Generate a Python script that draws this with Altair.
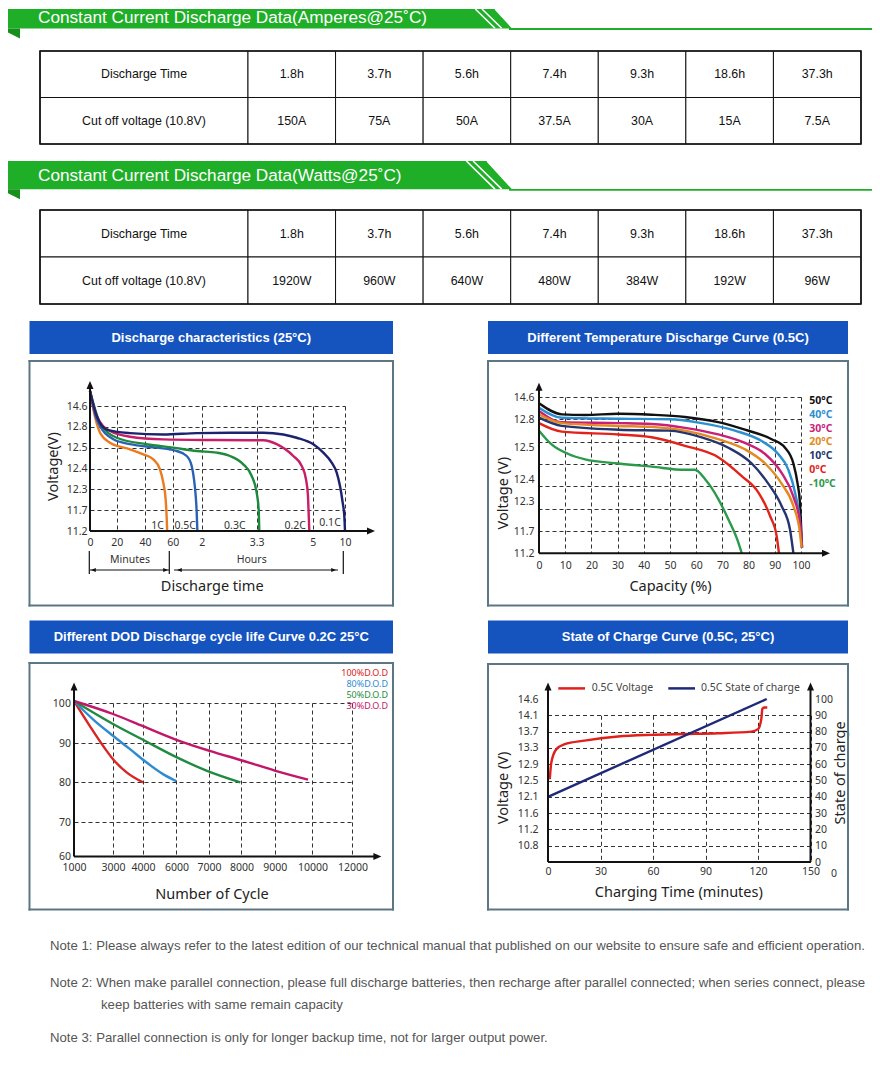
import altair as alt
import numpy as np
import pandas as pd

# ---------------- texts ----------------
BANNER_TITLES = ["Constant Current Discharge Data(Amperes@25˚C)",
                 "Constant Current Discharge Data(Watts@25˚C)"]
TABLE_HEADER = ["Discharge Time", "1.8h", "3.7h", "5.6h", "7.4h", "9.3h", "18.6h", "37.3h"]
TABLE_AMPS = ["Cut off voltage (10.8V)", "150A", "75A", "50A", "37.5A", "30A", "15A", "7.5A"]
TABLE_WATTS = ["Cut off voltage (10.8V)", "1920W", "960W", "640W", "480W", "384W", "192W", "96W"]
PANEL_TITLES = ["Discharge characteristics (25°C)",
                "Different Temperature Discharge Curve (0.5C)",
                "Different DOD Discharge cycle life Curve 0.2C 25°C",
                "State of Charge Curve (0.5C, 25°C)"]
NOTES = ["Note 1: Please always refer to the latest edition of our technical manual that published on our website to ensure safe and efficient operation.",
         "Note 2: When make parallel connection, please full discharge batteries, then recharge after parallel connected; when series connect, please",
         "keep batteries with same remain capacity",
         "Note 3: Parallel connection is only for longer backup time, not for larger output power."]

# ---------------- panel 1: discharge characteristics ----------------
P1_SERIES = ["1C", "0.5C", "0.3C", "0.2C", "0.1C"]
P1_COLORS = ["#ec7b1d", "#2a62b4", "#1d8a3d", "#c81e68", "#1b226e"]
P1_T_TICKS = [0, 20, 40, 60, 120, 198, 300, 600]          # minutes
P1_T_LABELS = ["0", "20", "40", "60", "2", "3.3", "5", "10"]
P1_V_TICKS = [11.2, 11.7, 12.3, 12.4, 12.5, 12.8, 14.6]
P1_T = {
    "1C": [0, 2.5, 7.5, 15, 29.4, 38.8, 46, 50.8, 53.2, 54.9, 55.6, 56],
    "0.5C": [0, 5.0, 17.5, 29.4, 48.4, 68.3, 89, 99.3, 104.1, 107.6, 109.7, 111],
    "0.3C": [0, 7.5, 20, 41.2, 61.2, 109.7, 141.3, 160.1, 179, 190.9, 198, 201.6, 202.7],
    "0.2C": [0, 5.0, 15, 29.4, 53.2, 136.4, 210, 234.4, 264.6, 280, 287.8, 291.4, 292.6, 293.8],
    "0.1C": [0, 5.0, 12.5, 29.4, 53.2, 109.7, 160.1, 210, 246.4, 270.8, 305.6, 398.5, 476.5,
             522.9, 553.6, 578.7, 593.5, 600],
}
P1_V = {
    "1C": [15.9, 14.31, 12.715, 12.571, 12.492, 12.468, 12.444, 12.396, 12.332, 12.01, 11.56, 11.2],
    "0.5C": [15.9, 13.45, 12.62, 12.55, 12.5, 12.484, 12.46, 12.412, 12.348, 12.108, 11.64, 11.2],
    "0.3C": [15.9, 13.16, 12.643, 12.55, 12.5, 12.484, 12.476, 12.46, 12.42, 12.364, 12.2, 11.72, 11.2],
    "0.2C": [15.9, 13.74, 12.74, 12.658, 12.62, 12.61, 12.606, 12.55, 12.46, 12.412, 12.348, 12.108,
             11.64, 11.2],
    "0.1C": [15.9, 13.74, 12.76, 12.71, 12.69, 12.71, 12.715, 12.715, 12.69, 12.643, 12.548, 12.476,
             12.428, 12.38, 12.316, 11.914, 11.56, 11.2],
}
P1_LABEL_T = [49, 86, 167, 268, 461]
P1_LABEL_V = [11.32, 11.32, 11.32, 11.32, 11.39]
P1_SPANS = ["Minutes", "Hours"]
P1_TITLES = ["Discharge time", "Voltage(V)"]

# ---------------- panel 2: temperature ----------------
TEMP_LABELS = ["50°C", "40°C", "30°C", "20°C", "10°C", "0°C", "-10°C"]
TEMP_COLORS = ["#111111", "#2b8fd2", "#c91f78", "#e38a22", "#263470", "#e2231a", "#2b9a4b"]
P2_CAP_TICKS = [0, 10, 20, 30, 40, 50, 60, 70, 80, 90, 100]
P2_V_TICKS = [11.2, 11.7, 12.3, 12.4, 12.5, 12.8, 14.6]
P2_CAP = {
    "50°C": [0, 8.7, 17.6, 30.3, 43, 55.7, 68.4, 78.6, 88.8, 93.9, 97.1, 98.7, 99.6, 100.1, 100.4],
    "40°C": [0, 8.7, 30.3, 49.4, 62.1, 74.8, 85, 91.3, 95.2, 97.7, 99.6, 100.3],
    "30°C": [0, 8.7, 30.3, 43, 55.7, 68.4, 78.6, 86.3, 92.6, 97.1, 99.6, 100.4],
    "20°C": [0, 8.7, 30.3, 43, 55.7, 68.4, 78.6, 86.3, 92.6, 97.1, 99.6, 100.2],
    "10°C": [0, 8.7, 30.3, 49.4, 62.1, 72.3, 81.2, 87.5, 92.6, 95.8, 97.1],
    "0°C": [0, 8.7, 30.3, 43, 55.7, 68.4, 77.4, 83.7, 88.2, 90.7, 91.6],
    "-10°C": [0, 4.8, 11.2, 17.6, 30.3, 43, 55.7, 59.5, 63.4, 68.4, 72.3, 76.1, 77.4],
}
P2_V = {
    "50°C": [14.09, 13.2, 13.15, 13.25, 13.17, 12.99, 12.77, 12.69, 12.59, 12.5, 12.45, 12.38, 12.27,
             11.73, 11.33],
    "40°C": [13.74, 12.93, 12.85, 12.8, 12.76, 12.68, 12.57, 12.48, 12.43, 12.34, 11.87, 11.33],
    "30°C": [13.47, 12.77, 12.76, 12.75, 12.71, 12.64, 12.55, 12.48, 12.42, 12.32, 11.87, 11.33],
    "20°C": [13.2, 12.76, 12.73, 12.72, 12.68, 12.59, 12.495, 12.45, 12.38, 12.2, 11.66, 11.33],
    "10°C": [12.93, 12.73, 12.69, 12.68, 12.61, 12.5, 12.45, 12.38, 12.2, 11.73, 11.2],
    "0°C": [12.76, 12.67, 12.64, 12.61, 12.52, 12.47, 12.41, 12.34, 12.0, 11.59, 11.2],
    "-10°C": [12.68, 12.535, 12.48, 12.463, 12.45, 12.44, 12.43, 12.43, 12.4, 12.31, 11.93, 11.44, 11.2],
}
P2_TITLES = ["Capacity (%)", "Voltage (V)"]

# ---------------- panel 3: DOD cycle life ----------------
DOD_LABELS = ["100%D.O.D", "80%D.O.D", "50%D.O.D", "30%D.O.D"]
DOD_COLORS = ["#d92424", "#2f8bd0", "#1f8b40", "#c1176b"]
P3_X_TICKS = [1000, 3000, 4000, 6000, 7000, 8000, 9000, 10000, 12000]
P3_Y_TICKS = [60, 70, 80, 90, 100]
P3_N = {
    "100%D.O.D": [1000, 1805, 2487, 3000, 3443, 4000],
    "80%D.O.D": [1000, 2046, 3000, 3557, 4198, 5198, 6000],
    "50%D.O.D": [1000, 3000, 4000, 6000, 6920, 7969],
    "30%D.O.D": [1000, 3000, 4000, 6000, 7022, 8048, 9000, 9883],
}
P3_P = {
    "100%D.O.D": [100.5, 94.3, 89.3, 85.9, 82.6, 80.0],
    "80%D.O.D": [100.5, 95.6, 91.8, 88.5, 85.1, 82.1, 80.3],
    "50%D.O.D": [100.5, 94.75, 90.8, 86.4, 83.0, 80.0],
    "30%D.O.D": [100.5, 97.25, 94.2, 90.8, 88.0, 85.5, 83.0, 80.7],
}
P3_TITLE = "Number of Cycle"

# ---------------- panel 4: state of charge ----------------
P4_SERIES = ["0.5C Voltage", "0.5C State of charge"]
P4_COLORS = ["#e11f1b", "#1e2a78"]
P4_T_TICKS = [0, 30, 60, 90, 120, 150]
P4_V_TICKS = [10.8, 11.2, 11.6, 12.1, 12.5, 12.9, 13.3, 13.7, 14.1, 14.6]
P4_SOC_TICKS = [0, 10, 20, 30, 40, 50, 60, 70, 80, 90, 100]
P4_VOLT_T = [1.0, 1.9, 4.8, 9.5, 20.9, 40, 59, 78, 97.2, 116.2, 120, 121.9, 122.5, 123.8, 125.3]
P4_VOLT_V = [12.53, 12.94, 13.27, 13.39, 13.48, 13.58, 13.62, 13.64, 13.66, 13.70, 13.76, 14.01,
             14.30, 14.34, 14.34]
P4_SOC_T = [0, 125]
P4_SOC_V = [40, 100]
P4_TITLES = ["Charging Time (minutes)", "Voltage (V)", "State of charge"]
P4_EXTRA = "0"

# ---------------- style ----------------
FONT_T = "Liberation Sans"
FONT_C = "Noto Sans"
GREEN = "#1fae27"
GREEN_D = "#168f1d"
BLUE = "#1553bf"
BOXC = "#5d7684"
INK = "#111111"
ARROW_UP = "M0,-1L0.7,0.6L-0.7,0.6Z"
ARROW_RIGHT = "M1,0L-0.6,0.7L-0.6,-0.7Z"
ARROW_LEFT = "M-1,0L0.6,-0.7L0.6,0.7Z"
PAGE_W = 864

ONE = pd.DataFrame({"k": [0]})


def vrect(x0, x1, y0, y1, color, opacity=1.0):
    return alt.Chart(ONE).mark_rect(color=color, opacity=opacity).encode(
        x=alt.value(x0), x2=alt.value(x1), y=alt.value(y0), y2=alt.value(y1))


def ghost(x0, x1, y0, y1):
    return vrect(x0, x1, y0, y1, "white", 0)


def vrule(x0, y0, x1, y1, color=INK, width=2.0):
    return alt.Chart(ONE).mark_rule(color=color, strokeWidth=width).encode(
        x=alt.value(x0), y=alt.value(y0), x2=alt.value(x1), y2=alt.value(y1))


def vtext(x, y, text, **kw):
    return alt.Chart(ONE).mark_text(**kw).encode(x=alt.value(x), y=alt.value(y), text=alt.value(text))


def vshape(x, y, path, size, color):
    return alt.Chart(ONE).mark_point(shape=path, size=size, filled=True, color=color,
                                     opacity=1, strokeWidth=0).encode(x=alt.value(x), y=alt.value(y))


def long_df(series, xs, ys, xn, yn):
    rows = []
    for s in series:
        for a, b in zip(xs[s], ys[s]):
            rows.append({"s": s, xn: a, yn: b})
    return pd.DataFrame(rows)


def lab_expr(values, labels):
    expr = "''"
    for v, l in reversed(list(zip(values, labels))):
        expr = f"(datum.value == {v} ? '{l}' : {expr})"
    return expr


def axis(**kw):
    base = dict(labelFont=FONT_C, labelFontSize=10.5, labelColor="#333333",
                titleFont=FONT_C, titleFontSize=14.5, titleFontWeight="normal", titleColor="#222222",
                ticks=False, domain=False, gridDash=[4, 3], gridColor="#333333", gridWidth=1,
                gridOpacity=1, labelFlush=False, labelOverlap=False)
    base.update(kw)
    return alt.Axis(**base)


def frame(ox, oy, title, bar, boxr, gl, st, sb, gr=None):
    """Title bar, box, and invisible anchors (chart coordinates -> local)."""
    L = [vrect(bar[0] - ox, bar[2] - ox, bar[1] - oy, bar[3] - oy, BLUE),
         vtext((bar[0] + bar[2]) / 2 - ox, (bar[1] + bar[3]) / 2 - oy, title, font=FONT_T,
               fontSize=13, fontWeight="bold", color="white", align="center", baseline="middle")]
    x0, y0, x1, y1 = boxr[0] - ox, boxr[1] - oy, boxr[2] - ox, boxr[3] - oy
    L += [vrect(x0 - 1, x1 + 1, y0 - 1, y0 + 1, BOXC), vrect(x0 - 1, x1 + 1, y1 - 1, y1 + 1, BOXC),
          vrect(x0 - 1, x0 + 1, y0 - 1, y1 + 1, BOXC), vrect(x1 - 1, x1 + 1, y0 - 1, y1 + 1, BOXC)]
    L.append(ghost(gl - ox, gl + 1 - ox, st + 1 - oy, sb - oy))
    if gr is not None:
        L.append(ghost(gr - 1 - ox, gr - ox, st + 1 - oy, st + 2 - oy))
    return L


def spacer():
    return ghost(0, 1, 0, 1).properties(width=1, height=1)


# ---------------- banners ----------------
def banner_chart(title, T, B, text_top, slot_h):
    xb = 504.0
    xt = xb - 0.92 * (B - T)
    a, b = (xb - xt) / 2, (B - T) / 2
    r = max(a, b)
    tri = f"M{-a / r:.3f},{-b / r:.3f}L{a / r:.3f},{b / r:.3f}L{-a / r:.3f},{b / r:.3f}Z"
    fold = "M-1,-0.833L1,-0.833L1,0.833L-1,-0.167Z"
    layers = [
        vrect(0, xt + 0.6, T, B, GREEN),
        vshape((xt + xb) / 2, (T + B) / 2, tri, (2 * r) ** 2, GREEN),
        vrect(xb - 3, PAGE_W, B - 0.4, B + 1.4, GREEN),
        vrule(xb - 17 - (B - T) * 1.01, T, xb - 17, B - 0.2, "white", 1.6),
        vrule(xb - 10.3 - (B - T) * 1.01, T, xb - 10.3, B - 0.2, "white", 1.6),
        vshape(6, B + 5, fold, 144, GREEN_D),
        vtext(30, text_top, title, font=FONT_T, fontSize=17.2, color="white", align="left",
              baseline="top"),
        ghost(0, 1, 0, slot_h),
    ]
    return alt.layer(*layers).properties(width=PAGE_W, height=slot_h)


# ---------------- tables ----------------
def table_chart(row2, H, slot_h, top=2):
    weights = [2.375] + [1.0] * 7
    edges = np.concatenate([[0.0], np.cumsum(weights)])
    recs = []
    for r, row in enumerate([TABLE_HEADER, row2]):
        for i, txt in enumerate(row):
            recs.append(dict(row=r, x0=edges[i], x1=edges[i + 1], xm=(edges[i] + edges[i + 1]) / 2, txt=txt))
    df = pd.DataFrame(recs)
    xs = alt.Scale(domain=[0, float(edges[-1])], range=[32, 853], nice=False, zero=False)
    ys = alt.Scale(domain=[0, 1], range=[top, top + H], paddingInner=0, paddingOuter=0)
    cells = alt.Chart(df).mark_rect(fill="white", stroke=INK, strokeWidth=1).encode(
        x=alt.X("x0:Q", scale=xs, axis=None), x2="x1:Q", y=alt.Y("row:O", scale=ys, axis=None))
    text = alt.Chart(df).mark_text(font=FONT_T, fontSize=12.4, color=INK).encode(
        x=alt.X("xm:Q", scale=xs, axis=None), y=alt.Y("row:O", scale=ys, axis=None), text="txt:N")
    outer = alt.Chart(ONE).mark_rect(fillOpacity=0, stroke=INK, strokeWidth=1.6).encode(
        x=alt.value(32), x2=alt.value(853), y=alt.value(top), y2=alt.value(top + H))
    return alt.layer(cells, text, outer, ghost(0, 1, 0, slot_h)).properties(width=853, height=slot_h)


banner1 = banner_chart(BANNER_TITLES[0], 0, 19.5, 0, 40)
table1 = table_chart(TABLE_AMPS, 93, 110)
banner2 = banner_chart(BANNER_TITLES[1], 2, 30.3, 7.5, 49)
table2 = table_chart(TABLE_WATTS, 94, 111)

# ---------------- panel 1 ----------------
OX1, OY1, W1, H1 = 82, 397, 255, 125
P1_T_POS = [0, 26.7, 55, 82.7, 111.7, 166.7, 222.7, 255]
p1_df = long_df(P1_SERIES, P1_T, P1_V, "t", "v")
p1_x = alt.X("t:Q", scale=alt.Scale(domain=P1_T_TICKS, range=P1_T_POS, nice=False, zero=False),
             axis=axis(values=P1_T_TICKS, labelExpr=lab_expr(P1_T_TICKS, P1_T_LABELS), grid=True,
                       labelPadding=6, title=P1_TITLES[0], titleX=121.7, titleY=55,
                       titleBaseline="middle"))
p1_y = alt.Y("v:Q", scale=alt.Scale(domain=P1_V_TICKS, range=[H1 - i * H1 / 6 for i in range(7)],
                                    nice=False, zero=False),
             axis=axis(values=P1_V_TICKS, format=".1f", grid=True, labelPadding=3,
                       title=P1_TITLES[1], titleX=-37, titleY=60, titleAngle=270,
                       titleBaseline="middle", titleAlign="center"))
p1_color = alt.Color("s:N", scale=alt.Scale(domain=P1_SERIES, range=P1_COLORS), legend=None)
p1_lines = alt.Chart(p1_df).mark_line(strokeWidth=2.4, interpolate="monotone").encode(
    x=p1_x, y=p1_y, color=p1_color)
p1_lab = alt.Chart(pd.DataFrame({"s": P1_SERIES, "t": P1_LABEL_T, "v": P1_LABEL_V})).mark_text(
    font=FONT_C, fontSize=10.5, color="#333333").encode(x=p1_x, y=p1_y, text="s:N")
p1_decor = [
    vrule(0, H1, 0, -18), vshape(0, -20, ARROW_UP, 100, INK),
    vrule(0, H1, 280, H1), vshape(280, H1, ARROW_RIGHT, 100, INK),
    vrule(-0.7, 145, -0.7, 168, INK, 1.2), vrule(79.3, 145, 79.3, 168, INK, 1.2),
    vrule(253.3, 145, 253.3, 168, INK, 1.2),
    vrule(0, 164, 79.3, 164, INK, 1), vshape(4, 164, ARROW_LEFT, 36, INK),
    vshape(75, 164, ARROW_RIGHT, 36, INK),
    vrule(84, 164, 248, 164, INK, 1), vshape(90, 164, ARROW_LEFT, 36, INK),
    vshape(243, 164, ARROW_RIGHT, 36, INK),
    vtext(40, 154, P1_SPANS[0], font=FONT_C, fontSize=10.5, color="#333333"),
    vtext(161.7, 154, P1_SPANS[1], font=FONT_C, fontSize=10.5, color="#333333"),
]
panel1 = alt.layer(
    *frame(OX1, OY1, PANEL_TITLES[0], (21.5, 312, 385, 345), (21.5, 352, 385, 596.5), 1, 310, 609, 479),
    p1_lines, p1_lab, *p1_decor).properties(width=W1, height=H1)

# ---------------- panel 2 ----------------
OX2, OY2, W2, H2 = 531, 388, 262, 156.3
P2_V_POS = [156.3, 134, 104, 82.3, 50.7, 22.3, 0]
p2_df = long_df(TEMP_LABELS, P2_CAP, P2_V, "c", "v")
p2_x = alt.X("c:Q", scale=alt.Scale(domain=[0, 100], nice=False, zero=False),
             axis=axis(values=P2_CAP_TICKS, format="d", grid=True, labelPadding=7, title=P2_TITLES[0],
                       titleX=131, titleY=33.4, titleBaseline="middle"))
p2_y = alt.Y("v:Q", scale=alt.Scale(domain=P2_V_TICKS, range=P2_V_POS, nice=False, zero=False),
             axis=axis(orient="left", values=P2_V_TICKS, format=".1f", grid=False, labelPadding=5,
                       title=P2_TITLES[1], titleX=-36, titleY=95.7, titleAngle=270,
                       titleBaseline="middle", titleAlign="center"))
p2_color = alt.Color("s:N", scale=alt.Scale(domain=TEMP_LABELS, range=TEMP_COLORS), legend=None)
p2_grid = alt.Chart(pd.DataFrame({"gi": list(range(8))})).mark_point(opacity=0).encode(
    x=alt.value(0),
    y=alt.Y("gi:Q", scale=alt.Scale(domain=[0, 7], nice=False, zero=False),
            axis=axis(orient="right", values=list(range(8)), grid=True, labels=False, title=None)))
p2_lines = alt.Chart(p2_df).mark_line(strokeWidth=2.4, interpolate="monotone").encode(
    x=p2_x, y=p2_y, color=p2_color)
p2_leg = alt.Chart(pd.DataFrame({"s": TEMP_LABELS})).mark_text(
    align="left", baseline="middle", font=FONT_C, fontSize=10.5, fontWeight="bold").encode(
    x=alt.value(270.3),
    y=alt.Y("s:N", scale=alt.Scale(domain=TEMP_LABELS, range=[4, 86.7], padding=0), axis=None),
    text="s:N", color=p2_color)
p2_decor = [vrule(0, H2, 0, -7), vshape(0, -9.3, ARROW_UP, 100, INK),
            vrule(0, H2, 286, H2), vshape(286, H2, ARROW_RIGHT, 100, INK)]
panel2 = alt.layer(
    *frame(OX2, OY2, PANEL_TITLES[1], (480, 312, 840, 345), (480, 352, 840, 596.5), 479, 310, 609),
    p2_grid, p2_lines, p2_leg, *p2_decor).resolve_scale(y="independent").properties(width=W2, height=H2)

# ---------------- panel 3 ----------------
OX3, OY3, W3, H3 = 66, 694, 278.4, 153.4
P3_X_POS = [0, 39, 69, 102.4, 135, 167.4, 200.7, 238.4, 278.4]
P3_Y_POS = [153.4, 119.4, 79.4, 40, 0]
p3_df = long_df(DOD_LABELS, P3_N, P3_P, "n", "p")
p3_x = alt.X("n:Q", scale=alt.Scale(domain=P3_X_TICKS, range=P3_X_POS, nice=False, zero=False),
             axis=axis(values=P3_X_TICKS, format="d", grid=True, labelPadding=6, title=P3_TITLE,
                       titleX=137.4, titleY=37.6, titleBaseline="middle"))
p3_y = alt.Y("p:Q", scale=alt.Scale(domain=P3_Y_TICKS, range=P3_Y_POS, nice=False, zero=False),
             axis=axis(orient="left", values=P3_Y_TICKS, format="d", grid=True, labelPadding=3.6,
                       title=None))
p3_color = alt.Color("s:N", scale=alt.Scale(domain=DOD_LABELS, range=DOD_COLORS), legend=None)
p3_lines = alt.Chart(p3_df).mark_line(strokeWidth=2.4, interpolate="monotone").encode(
    x=p3_x, y=p3_y, color=p3_color)
p3_leg = alt.Chart(pd.DataFrame({"s": DOD_LABELS})).mark_text(
    align="right", baseline="middle", font=FONT_C, fontSize=9).encode(
    x=alt.value(314),
    y=alt.Y("s:N", scale=alt.Scale(domain=DOD_LABELS, range=[-30, 2.7], padding=0), axis=None),
    text="s:N", color=p3_color)
p3_decor = [vrule(0, H3, 0, -13), vshape(0, -15.6, ARROW_UP, 100, INK),
            vrule(0, H3, 302, H3), vshape(302.4, H3, ARROW_RIGHT, 100, INK)]
panel3 = alt.layer(
    *frame(OX3, OY3, PANEL_TITLES[2], (21.5, 611.5, 385, 644.5), (21.5, 654, 385, 900.5), 1, 609, 915, 479),
    p3_lines, p3_leg, *p3_decor).resolve_scale(y="independent").properties(width=W3, height=H3)

# ---------------- panel 4 ----------------
OX4, OY4, W4, H4 = 540, 690, 262.5, 163
p4_x = alt.X("t:Q", scale=alt.Scale(domain=[0, 150], nice=False, zero=False),
             axis=axis(values=P4_T_TICKS, format="d", grid=True, labelPadding=4.5, title=P4_TITLES[0],
                       titleX=130.3, titleY=30.7, titleBaseline="middle"))
p4_yv = alt.Y("v:Q", scale=alt.Scale(domain=P4_V_TICKS, range=[H4 - (k + 1) * H4 / 10 for k in range(10)],
                                     nice=False, zero=False),
              axis=axis(orient="left", values=P4_V_TICKS, format=".1f", grid=False, labelPadding=10,
                        title=P4_TITLES[1], titleX=-44.7, titleY=88.4, titleAngle=270,
                        titleBaseline="middle", titleAlign="center"))
p4_ys = alt.Y("soc:Q", scale=alt.Scale(domain=[0, 100], nice=False, zero=False),
              axis=axis(orient="right", values=P4_SOC_TICKS, format="d", grid=True,
                        gridOpacity={"condition": {"test": "datum.value >= 100", "value": 0}, "value": 1},
                        labelPadding=4, title=P4_TITLES[2], titleX=29.5, titleY=73.4, titleAngle=270,
                        titleBaseline="middle", titleAlign="center"))
p4_volt = alt.Chart(pd.DataFrame({"t": P4_VOLT_T, "v": P4_VOLT_V})).mark_line(
    color=P4_COLORS[0], strokeWidth=2.4, interpolate="monotone").encode(x=p4_x, y=p4_yv)
p4_soc = alt.Chart(pd.DataFrame({"t": P4_SOC_T, "soc": P4_SOC_V})).mark_line(
    color=P4_COLORS[1], strokeWidth=2.4).encode(x=p4_x, y=p4_ys)
p4_decor = [vrule(0, H4, 0, -10), vshape(0, -11.6, ARROW_UP, 100, INK),
            vrule(W4, H4, W4, -10), vshape(W4, -11.6, ARROW_UP, 100, INK),
            vrule(0, H4, W4, H4),
            vrule(10.3, -10.6, 37, -10.6, P4_COLORS[0], 2.5),
            vtext(43.7, -10.6, P4_SERIES[0], font=FONT_C, fontSize=10.5, color="#444444",
                  align="left", baseline="middle"),
            vrule(120.3, -10.6, 147, -10.6, P4_COLORS[1], 2.5),
            vtext(153, -10.6, P4_SERIES[1], font=FONT_C, fontSize=10.5, color="#444444",
                  align="left", baseline="middle"),
            vtext(286, H4 + 12, P4_EXTRA, font=FONT_C, fontSize=10.5, color="#333333")]
panel4 = alt.layer(
    *frame(OX4, OY4, PANEL_TITLES[3], (480, 611.5, 840, 644.5), (480, 655, 840, 900.5), 479, 609, 915),
    p4_volt, p4_soc, *p4_decor).resolve_scale(y="independent").properties(width=W4, height=H4)

# ---------------- notes ----------------
note_style = dict(font=FONT_T, fontSize=13.2, color="#555555", align="left", baseline="middle")
notes = alt.layer(
    vtext(42, 22, NOTES[0], **note_style),
    vtext(42, 59, NOTES[1], **note_style),
    vtext(93, 81, NOTES[2], **note_style),
    vtext(42, 114, NOTES[3], **note_style),
    ghost(0, 1, 0, 135),
).properties(width=PAGE_W, height=135)


def cell(panel):
    return alt.vconcat(spacer(), panel, spacing=0).resolve_scale(color="independent")


row1 = alt.hconcat(spacer(), cell(panel1), cell(panel2), spacing=0).resolve_scale(color="independent")
row2 = alt.hconcat(spacer(), cell(panel3), cell(panel4), spacing=0).resolve_scale(color="independent")

chart = alt.vconcat(banner1, table1, banner2, table2, row1, row2, notes, spacing=0).resolve_scale(
    color="independent").properties(padding=0, background="white").configure_view(strokeWidth=0)

chart.save("out.html", embed_options={"renderer": "svg", "actions": False})
